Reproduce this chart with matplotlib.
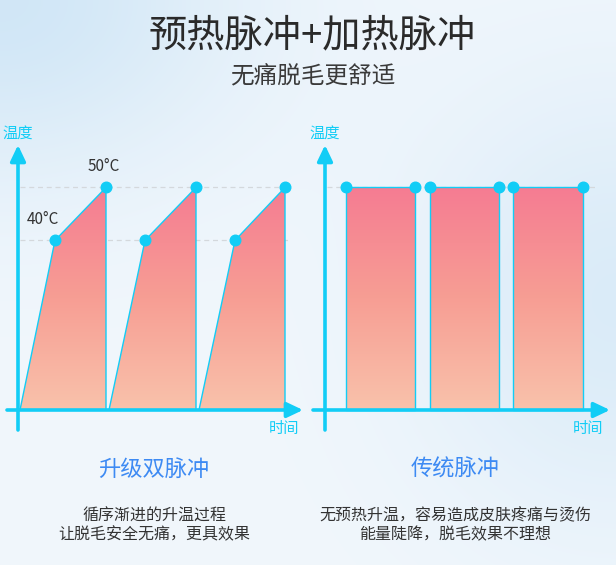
import numpy as np
import matplotlib
matplotlib.use("Agg")
import matplotlib.pyplot as plt
from matplotlib.patches import Polygon
from matplotlib.colors import LinearSegmentedColormap

plt.rcParams['font.family'] = ['Noto Sans CJK SC', 'DejaVu Sans']

# 数据
left_start = [0.2, 9.1, 18.1]     # 升级双脉冲: 开始升温
left_pre = [3.7, 12.7, 21.7]      # 预热点 (40°C)
left_peak = [8.8, 17.8, 26.7]     # 加热点 (50°C)
right_on = [2.1, 10.5, 18.8]      # 传统脉冲: 开
right_off = [9.0, 17.4, 25.8]     # 传统脉冲: 关
temp_base = 8
temp_pre = 40
temp_peak = 50

title = "预热脉冲+加热脉冲"
subtitle = "无痛脱毛更舒适"
panel_names = ["升级双脉冲", "传统脉冲"]
panel_desc = [["循序渐进的升温过程", "让脱毛安全无痛，更具效果"],
              ["无预热升温，容易造成皮肤疼痛与烫伤", "能量陡降，脱毛效果不理想"]]

W, H = 616, 565
CYAN = '#12CDF6'
cmap = LinearSegmentedColormap.from_list('pulse', ['#F9C2AB', '#F79E94', '#F57C92'])

fig = plt.figure(figsize=(W / 100, H / 100), dpi=100)

# 背景
bg = fig.add_axes([0, 0, 1, 1], zorder=-10)
yy, xx = np.mgrid[0:H, 0:W]
base = np.array([0.945, 0.968, 0.988])
tint = np.array([0.82, 0.905, 0.968])
w1 = np.exp(-((xx / 240.0) ** 2 + (yy / 180.0) ** 2))
w2 = np.exp(-(((xx - W) / 200.0) ** 2 + ((yy - 300) / 220.0) ** 2)) * 0.7
w = np.clip(w1 + w2, 0, 1)[..., None]
bg.imshow(base * (1 - w) + tint * w, aspect='auto', extent=[0, W, H, 0])
bg.axis('off')


def make_axes(x0, x1, y0, y1, origin_px):
    # 像素框 -> 数据坐标 (时间: 10px/单位, 温度: 5.3px/度, 基线 y=410)
    ax = fig.add_axes([x0 / W, 1 - y1 / H, (x1 - x0) / W, (y1 - y0) / H])
    ax.patch.set_alpha(0)
    ax.axis('off')
    lims = ((x0 - origin_px) / 10, (x1 - origin_px) / 10,
            temp_base + (410 - y1) / 5.3, temp_base + (410 - y0) / 5.3)
    return ax, lims


def t_at(py):
    return temp_base + (410 - py) / 5.3


def grad_fill(ax, pts):
    poly = Polygon(pts, closed=True, facecolor='none', edgecolor=CYAN, lw=1.0, zorder=3)
    ax.add_patch(poly)
    xs = [p[0] for p in pts]
    grad = np.linspace(0, 1, 256).reshape(-1, 1)
    im = ax.imshow(grad, cmap=cmap, origin='lower', aspect='auto',
                   extent=[min(xs), max(xs), temp_base, temp_peak], zorder=2)
    im.set_clip_path(poly)


def draw_axes_arrows(ax, x_start):
    arrow = dict(arrowstyle='-|>,head_length=0.8,head_width=0.38', color=CYAN,
                 lw=2.6, shrinkA=0, shrinkB=0, mutation_scale=12)
    ax.annotate('', xy=(0, t_at(145)), xytext=(0, t_at(430)), arrowprops=arrow, zorder=5)
    ax.annotate('', xy=(28.5, temp_base), xytext=(x_start, temp_base), arrowprops=arrow, zorder=5)


# 左图
axl, lims = make_axes(0, 310, 100, 445, 18)
for level in [temp_pre, temp_peak]:
    axl.plot([0.2, 27.2], [level, level], ls=(0, (4, 3)), color='#D4D8DC', lw=0.9, zorder=1)
for s, p, k in zip(left_start, left_pre, left_peak):
    grad_fill(axl, [(s, temp_base), (p, temp_pre), (k, temp_peak), (k, temp_base)])
axl.scatter(left_pre, [temp_pre] * 3, s=58, color=CYAN, zorder=6)
axl.scatter(left_peak, [temp_peak] * 3, s=58, color=CYAN, zorder=6)
draw_axes_arrows(axl, -1.1)
axl.text(left_peak[0] - 0.2, temp_peak + 2.3, "50°C", ha='center', va='bottom',
         fontsize=11, color='#333333')
axl.text(left_pre[0] - 1.2, temp_pre + 2.3, "40°C", ha='center', va='bottom',
         fontsize=11, color='#333333')
axl.set_xlim(lims[0], lims[1])
axl.set_ylim(lims[2], lims[3])

# 右图
axr, lims = make_axes(305, 616, 100, 445, 325)
axr.plot([0.2, 27.0], [temp_peak, temp_peak], ls=(0, (4, 3)), color='#D4D8DC', lw=0.9, zorder=1)
for a, b in zip(right_on, right_off):
    grad_fill(axr, [(a, temp_base), (a, temp_peak), (b, temp_peak), (b, temp_base)])
axr.scatter(right_on + right_off, [temp_peak] * 6, s=58, color=CYAN, zorder=6)
draw_axes_arrows(axr, -1.2)
axr.set_xlim(lims[0], lims[1])
axr.set_ylim(lims[2], lims[3])


def ftext(px, py, s, **kw):
    fig.text(px / W, 1 - py / H, s, ha='center', va='center', **kw)


ftext(312, 36, title, fontsize=27.5, color='#2a2a2a')
ftext(313, 77, subtitle, fontsize=17, color='#3a3a3a')
for px in [18, 325]:
    ftext(px, 133, "温度", fontsize=11, color=CYAN)
for px in [284, 588]:
    ftext(px, 429, "时间", fontsize=11, color=CYAN)
for cx, name, desc in zip([154, 455], panel_names, panel_desc):
    ftext(cx, 469, name, fontsize=16, color='#3D8AF3')
    ftext(cx, 516, desc[0], fontsize=11.5, color='#333333')
    ftext(cx, 535, desc[1], fontsize=11.5, color='#333333')

fig.savefig('out.png', dpi=100)
